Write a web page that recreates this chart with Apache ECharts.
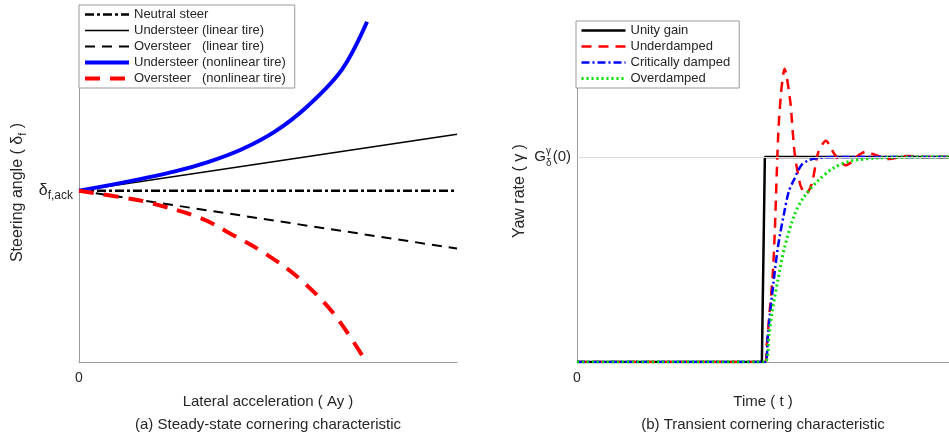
<!DOCTYPE html>
<html>
<head>
<meta charset="utf-8">
<script src="https://cdn.jsdelivr.net/npm/echarts@6/dist/echarts.min.js"></script>
<style>
  html, body { margin: 0; padding: 0; background: #fff; }
  #chart { width: 949px; height: 441px; }
</style>
</head>
<body>
<div id="chart"></div>
<script>
// ---------- (a) Steady-state cornering: steering angle vs lateral acceleration ----------
const ackermannAngle = 4.8;
const neutralSteer = [[0, 4.8], [10, 4.8]];
const understeerLinear = [[0, 4.8], [10, 6.38]];
const oversteerLinear = [[0, 4.8], [10, 3.18]];
const understeerNonlinear = [
  [0, 4.8], [1.22, 5.04], [2.54, 5.34], [3.41, 5.6], [4.31, 5.96],
  [5.19, 6.46], [6.06, 7.18], [6.96, 8.2], [7.62, 9.53]
];
const oversteerNonlinear = [
  [0, 4.8], [1.43, 4.56], [1.88, 4.46], [3.2, 4.04], [4.07, 3.56],
  [4.97, 3.01], [5.85, 2.32], [6.72, 1.38], [7.49, 0.19]
];
const steadyNames = [
  'Neutral steer',
  'Understeer (linear tire)',
  'Oversteer   (linear tire)',
  'Understeer (nonlinear tire)',
  'Oversteer   (nonlinear tire)'
];

// ---------- (b) Transient cornering: yaw rate response to a step steer ----------
const steadyGain = 1;
const unityGain = [[0, 0], [4.97, 0], [5.05, 1], [10, 1]];
const underdamped = [
  [0, 0], [5.05, 0], [5.1, 0.08], [5.18, 0.25], [5.26, 0.42], [5.32, 0.65],
  [5.37, 0.92], [5.42, 1.15], [5.5, 1.34], [5.58, 1.43], [5.63, 1.4],
  [5.74, 1.26], [5.85, 1.02], [6.01, 0.86], [6.16, 0.82], [6.32, 0.875],
  [6.48, 1.02], [6.69, 1.08], [6.9, 1.02], [7.06, 0.98], [7.22, 0.96],
  [7.38, 0.975], [7.54, 1.005], [7.75, 1.025], [8.02, 1.01], [8.36, 0.99],
  [8.89, 1.005], [9.34, 1.0], [10, 1.0]
];
const criticallyDamped = [
  [0, 0], [5.05, 0], [5.13, 0.13], [5.19, 0.24], [5.29, 0.4], [5.4, 0.56],
  [5.56, 0.72], [5.69, 0.83], [5.82, 0.885], [6.03, 0.96], [6.24, 0.985],
  [6.48, 0.995], [6.9, 1], [10, 1]
];
const overdamped = [
  [0, 0], [5.05, 0], [5.16, 0.13], [5.24, 0.24], [5.4, 0.4], [5.58, 0.56],
  [5.85, 0.72], [6.08, 0.8], [6.48, 0.885], [6.9, 0.947], [7.35, 0.98],
  [8.07, 0.995], [9.26, 1], [10, 1]
];
const transientNames = ['Unity gain', 'Underdamped', 'Critically damped', 'Overdamped'];

const TEXT = '#262626';
const AXIS = '#9a9a9a';
const FONT = '"Liberation Sans", Arial, sans-serif';

const chart = echarts.init(document.getElementById('chart'), null, { renderer: 'canvas' });

function line(name, data, gi, color, width, type, smooth) {
  return {
    name, type: 'line', data,
    xAxisIndex: gi, yAxisIndex: gi,
    symbol: 'none', smooth: smooth || false,
    lineStyle: { color, width, type },
    itemStyle: { color },
    emphasis: { disabled: true },
    silent: true
  };
}

// legend entries show only the line sample (no marker), drawn at the series width
const legendBase = {
  orient: 'vertical',
  itemWidth: 44,
  itemHeight: 14,
  itemGap: 3,
  itemStyle: { opacity: 0 },
  lineStyle: { width: 'inherit' },
  backgroundColor: '#fff',
  borderColor: '#999',
  borderWidth: 1,
  borderRadius: 0,
  padding: [3, 9, 3, 4],
  textStyle: { fontSize: 13, color: TEXT, fontFamily: FONT },
  selectedMode: false
};

const xAxisBase = {
  type: 'value', min: 0, max: 10,
  axisLine: { lineStyle: { color: AXIS, width: 1 } },
  axisTick: { show: false },
  splitLine: { show: false },
  axisLabel: { customValues: [0], formatter: '0', fontSize: 14, color: TEXT, margin: 9, fontFamily: FONT },
  nameLocation: 'middle',
  nameGap: 27,
  nameTextStyle: { fontSize: 15, color: TEXT, lineHeight: 23, fontFamily: FONT }
};

chart.setOption({
  animation: false,
  textStyle: { fontFamily: FONT },
  grid: [
    { left: 79, right: 492, top: 5, bottom: 74 },
    { left: 577, right: -6, top: 34, bottom: 74 }
  ],
  xAxis: [
    Object.assign({}, xAxisBase, {
      gridIndex: 0,
      name: 'Lateral acceleration ( Ay )\n(a) Steady-state cornering characteristic'
    }),
    Object.assign({}, xAxisBase, {
      gridIndex: 1,
      name: 'Time ( t )\n(b) Transient cornering characteristic'
    })
  ],
  yAxis: [
    {
      type: 'value', gridIndex: 0, min: 0, max: 10,
      axisLine: { show: true, lineStyle: { color: AXIS, width: 1 } },
      axisTick: { show: false },
      splitLine: { show: false },
      axisLabel: {
        customValues: [ackermannAngle],
        formatter: () => '{d|δ}{s|f,ack}',
        margin: 6,
        color: TEXT,
        rich: {
          d: { fontSize: 16, color: TEXT, fontFamily: FONT },
          s: { fontSize: 12, color: TEXT, fontFamily: FONT, padding: [9, 0, 0, 0] }
        }
      },
      name: 'Steering angle ( δ{s|f} )',
      nameLocation: 'middle',
      nameGap: 51,
      nameTextStyle: {
        fontSize: 16, color: TEXT, fontFamily: FONT,
        padding: [0, 18, 0, 0],
        rich: { s: { fontSize: 11, color: TEXT, fontFamily: FONT, padding: [9, 0, 0, 0] } }
      }
    },
    {
      type: 'value', gridIndex: 1, min: 0, max: 1.6,
      axisLine: { show: true, lineStyle: { color: AXIS, width: 1 } },
      axisTick: { show: false },
      splitLine: { show: false },
      axisLabel: { show: false },
      name: 'Yaw rate ( γ )',
      nameLocation: 'middle',
      nameGap: 49,
      nameTextStyle: { fontSize: 16, color: TEXT, fontFamily: FONT, padding: [0, 0, 0, 14] }
    }
  ],
  legend: [
    Object.assign({}, legendBase, { data: steadyNames, left: 79, top: 5 }),
    Object.assign({}, legendBase, { data: transientNames, left: 576, top: 21 })
  ],
  series: [
    line(steadyNames[0], neutralSteer, 0, '#000', 2.5, [9, 3, 3, 3]),
    line(steadyNames[1], understeerLinear, 0, '#000', 1.6, 'solid'),
    line(steadyNames[2], oversteerLinear, 0, '#000', 2, [10, 7]),
    line(steadyNames[3], understeerNonlinear, 0, '#0000ff', 4, 'solid', 0.35),
    line(steadyNames[4], oversteerNonlinear, 0, '#ff0000', 4, [15, 10], 0.35),
    Object.assign(line(transientNames[0], unityGain, 1, '#000', 2.5, 'solid'), {
      markLine: {
        silent: true, symbol: 'none', label: { show: false },
        lineStyle: { color: '#dcdcdc', width: 1, type: 'solid' },
        emphasis: { disabled: true },
        data: [{ yAxis: steadyGain }]
      }
    }),
    line(transientNames[1], underdamped, 1, '#ff0000', 2.5, [10, 7], 0.25),
    line(transientNames[2], criticallyDamped, 1, '#0000ff', 2.5, [8, 3, 2, 3], 0.3),
    line(transientNames[3], overdamped, 1, '#00e000', 3, [2, 3], 0.3)
  ]
});

// Steady-state gain label G^γ_δ(0) next to the yaw-rate axis
const gp = chart.convertToPixel({ xAxisIndex: 1, yAxisIndex: 1 }, [0, steadyGain]);
const gx = gp[0], gy = gp[1];
function txt(text, x, y, size, align) {
  return {
    type: 'text', silent: true,
    style: { text, x, y, fontSize: size, fontFamily: FONT, fill: TEXT, align, verticalAlign: 'middle' }
  };
}
chart.setOption({
  graphic: [
    txt('G', gx - 31, gy, 15, 'right'),
    txt('γ', gx - 31, gy - 6, 10, 'left'),
    txt('δ', gx - 31, gy + 6, 10, 'left'),
    txt('(0)', gx - 6, gy, 15, 'right')
  ]
});
</script>
</body>
</html>
